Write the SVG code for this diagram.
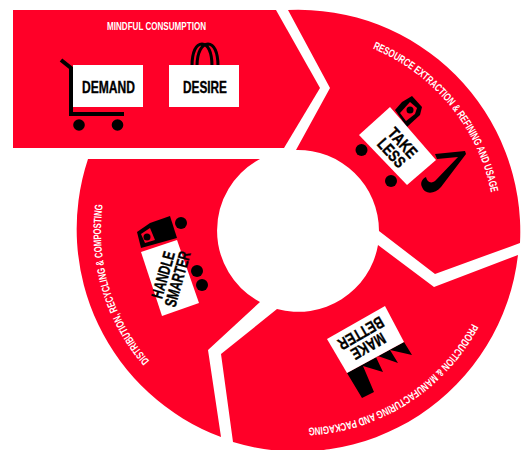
<svg xmlns="http://www.w3.org/2000/svg" width="528" height="450" viewBox="0 0 528 450">
<style>
.seg{fill:#ff0028}
.box{fill:#fff}
.ink{fill:#000}
.line{fill:none;stroke:#000}
.lab{font-family:"Liberation Sans",Arial,sans-serif;font-weight:700;fill:#fff;font-size:11px}
.big{font-family:"Liberation Sans",Arial,sans-serif;font-weight:700;fill:#000;stroke:#000;stroke-width:.35px;font-size:16.500px;text-anchor:middle}
</style>
<defs>
<path id="a1" d="M372.7 48.6A197 197 0 0 1 491 193"/>
<path id="a2" d="M472 323.4A197 197 0 0 1 308 428"/>
<path id="a3" d="M149.5 361A197 197 0 0 1 103 203.8"/>
</defs>
<rect width="528" height="450" fill="#fff"/>
<g id="mindful-consumption">
<path class="seg" d="M13 10H276L320 88L284 148H13Z"/>
<text class="lab" x="107" y="30" textLength="99" lengthAdjust="spacingAndGlyphs">MINDFUL CONSUMPTION</text>
<path class="line" stroke-width="4" d="M61 60L71 68V114H124"/>
<circle class="ink" cx="79" cy="125" r="5.800"/><circle class="ink" cx="117.500" cy="125" r="5.800"/>
<rect class="box" x="73" y="65" width="70" height="42"/>
<text class="big" x="108.500" y="93" textLength="53" lengthAdjust="spacingAndGlyphs">DEMAND</text>
<path class="line" stroke-width="3" d="M192 66C192 52 196 44 202 44C208 44 212 52 212 66M197 66C197 52 202 44 208 44C214 44 218 52 218 66"/>
<rect class="box" x="169" y="65" width="70" height="42"/>
<text class="big" x="205" y="93" textLength="44" lengthAdjust="spacingAndGlyphs">DESIRE</text>
</g>
<g id="resource-extraction">
<path class="seg" d="M288 10A222 222 0 0 1 520 243L435 274L379 231A81 81 0 0 0 296 150L330 88Z"/>
<text class="lab"><textPath href="#a1" textLength="194" lengthAdjust="spacingAndGlyphs">RESOURCE EXTRACTION &amp; REFINING AND USAGE</textPath></text>
<path class="ink" d="M412 96L422 107L420 115L407 127L395 110L402 102Z"/>
<path class="seg" d="M410 102L417 108L415 114L406 121L400 113Z"/>
<circle class="ink" cx="410" cy="110" r="3.500"/>
<path class="ink" d="M435 154L465 151L466 154L441 187C435 194 425 195 422 187C420 183 422 179 426 177C427 182 431 184 435 181L458 157L437 159Z"/>
<circle class="ink" cx="361.500" cy="150" r="6"/><circle class="ink" cx="391" cy="181" r="6"/>
<path class="box" d="M390 107L436 160L407 185L359 135Z"/>
<g transform="translate(397 148) rotate(48)">
<text class="big" y="-2" textLength="35" lengthAdjust="spacingAndGlyphs">TAKE</text>
<text class="big" y="13" textLength="33" lengthAdjust="spacingAndGlyphs">LESS</text>
</g>
</g>
<g id="production">
<path class="seg" d="M378 245L434 287L518 255A222 222 0 0 1 233 442L221 354L277 309A81 81 0 0 0 378 245Z"/>
<text class="lab"><textPath href="#a2" textLength="203" lengthAdjust="spacingAndGlyphs">PRODUCTION &amp; MANUFACTURING AND PACKAGING</textPath></text>
<path class="ink" d="M347 373L362 398L374 392L363 366L383 372L375 355L398 363L390 350L412 355L404 342Z"/>
<path class="box" d="M385 306L404 342L347 373L327 339Z"/>
<g transform="translate(364.500 339.500) rotate(150)">
<text class="big" y="-2" textLength="37" lengthAdjust="spacingAndGlyphs">MAKE</text>
<text class="big" y="13" textLength="50" lengthAdjust="spacingAndGlyphs">BETTER</text>
</g>
</g>
<g id="distribution">
<path class="seg" d="M88 159H260A81 81 0 0 0 260 302L208 350L221 437A222 222 0 0 1 88 159Z"/>
<text class="lab"><textPath href="#a3" textLength="168" lengthAdjust="spacingAndGlyphs">DISTRIBUTION, RECYCLING &amp; COMPOSTING</textPath></text>
<path class="ink" d="M137 232L150 223L170 216L177 238L141 248Z"/>
<path class="seg" d="M141 234L150 228L155 240L145 243Z"/>
<circle class="ink" cx="147" cy="237" r="3.500"/>
<circle class="ink" cx="181" cy="223" r="6"/><circle class="ink" cx="197" cy="271" r="6"/><circle class="ink" cx="202" cy="285" r="6"/>
<path class="box" d="M141 252L177 240L199 303L162 316Z"/>
<g transform="translate(170.500 277) rotate(-74)">
<text class="big" y="-2" textLength="48" lengthAdjust="spacingAndGlyphs">HANDLE</text>
<text class="big" y="13" textLength="57" lengthAdjust="spacingAndGlyphs">SMARTER</text>
</g>
</g>
</svg>
